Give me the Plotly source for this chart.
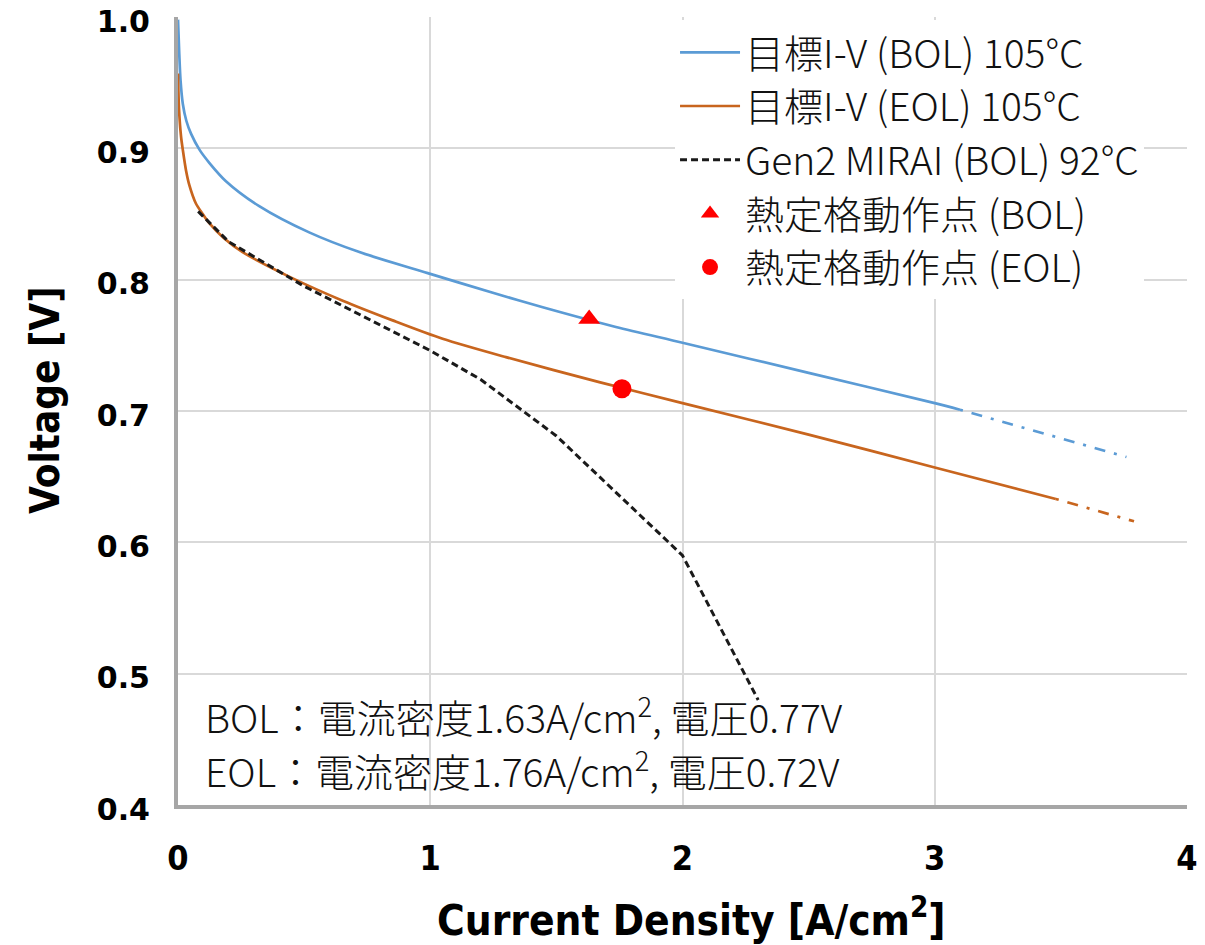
import plotly.graph_objects as go

# BOL target I-V (105°C), solid part
bol_x = [0.0, 0.005, 0.01, 0.019, 0.033, 0.052, 0.085, 0.124, 0.19, 0.322, 0.52, 0.719, 0.99, 1.248, 1.446, 1.736, 2.0, 2.5, 3.0, 3.1]
bol_y = [0.998, 0.972, 0.952, 0.934, 0.921, 0.911, 0.899, 0.889, 0.875, 0.856, 0.836, 0.821, 0.805, 0.790, 0.779, 0.764, 0.752, 0.729, 0.706, 0.701]
# BOL extrapolation (dash-dot)
bol_ext_x = [3.1, 3.76]
bol_ext_y = [0.701, 0.665]

# EOL target I-V (105°C), solid part
eol_x = [0.0, 0.004, 0.012, 0.019, 0.032, 0.045, 0.071, 0.098, 0.124, 0.18, 0.256, 0.455, 0.653, 0.851, 1.049, 1.3, 1.67, 2.0, 2.5, 3.0, 3.48]
eol_y = [0.957, 0.930, 0.909, 0.899, 0.883, 0.872, 0.858, 0.850, 0.843, 0.832, 0.821, 0.801, 0.784, 0.769, 0.755, 0.741, 0.722, 0.706, 0.682, 0.657, 0.633]
eol_ext_x = [3.48, 3.79]
eol_ext_y = [0.633, 0.616]

# Gen2 MIRAI (BOL) 92°C
mirai_x = [0.08, 0.2, 0.5, 1.0, 1.2, 1.5, 2.0, 2.3]
mirai_y = [0.852, 0.829, 0.795, 0.746, 0.724, 0.681, 0.590, 0.480]

# operating points
pt_bol = (1.63, 0.77)
pt_eol = (1.76, 0.717)

blue = "#5B9BD5"
orange = "#C8651E"
cjk = "Noto Sans CJK JP"
narrow = "DejaVu Sans Condensed, Liberation Sans Narrow, Arial Narrow, sans-serif"

fig = go.Figure()
fig.add_trace(go.Scatter(x=bol_x, y=bol_y, mode="lines", line=dict(color=blue, width=2.7, shape="spline", smoothing=0.8),
                         name="目標I-V (BOL) 105°C"))
fig.add_trace(go.Scatter(x=eol_x, y=eol_y, mode="lines", line=dict(color=orange, width=2.7, shape="spline", smoothing=0.8),
                         name="目標I-V (EOL) 105°C"))
fig.add_trace(go.Scatter(x=mirai_x, y=mirai_y, mode="lines", line=dict(color="#1a1a1a", width=3, dash="7px,4px"),
                         name="Gen2 MIRAI (BOL) 92°C"))
fig.add_trace(go.Scatter(x=[pt_bol[0]], y=[pt_bol[1]], mode="markers",
                         marker=dict(symbol="triangle-up", color="#FF0000", size=19),
                         name="熱定格動作点 (BOL)"))
fig.add_trace(go.Scatter(x=[pt_eol[0]], y=[pt_eol[1]], mode="markers",
                         marker=dict(symbol="circle", color="#FF0000", size=19),
                         name="熱定格動作点 (EOL)"))
fig.add_trace(go.Scatter(x=bol_ext_x, y=bol_ext_y, mode="lines", line=dict(color=blue, width=2.7, dash="3px,9px,11px,9px"),
                         showlegend=False))
fig.add_trace(go.Scatter(x=eol_ext_x, y=eol_ext_y, mode="lines", line=dict(color=orange, width=2.7, dash="3px,9px,11px,9px"),
                         showlegend=False))

fig.add_annotation(x=0.1, y=0.469, xref="x", yref="y", xanchor="left", yanchor="middle", showarrow=False,
                   text="BOL：電流密度1.63A/cm<sup>2</sup>, 電圧0.77V", font=dict(family=cjk, size=39, color="#111", weight=300))
fig.add_annotation(x=0.1, y=0.428, xref="x", yref="y", xanchor="left", yanchor="middle", showarrow=False,
                   text="EOL：電流密度1.76A/cm<sup>2</sup>, 電圧0.72V", font=dict(family=cjk, size=39, color="#111", weight=300))

# axis titles
fig.add_annotation(x=0.509, y=-0.1434, xref="paper", yref="paper", xanchor="center", yanchor="middle", showarrow=False,
                   text="Current Density [A/cm<sup>2</sup>]", font=dict(family=narrow, size=42, color="black", weight="bold"))
fig.add_annotation(x=-0.1318, y=0.514, xref="paper", yref="paper", xanchor="center", yanchor="middle", showarrow=False,
                   textangle=-90, text="Voltage [V]", font=dict(family=narrow, size=40, color="black", weight="bold"))

fig.update_layout(
    width=1205, height=945,
    margin=dict(l=178, r=18, t=17, b=140),
    paper_bgcolor="white", plot_bgcolor="white",
    showlegend=True,
    legend=dict(x=0.4926, y=0.9956, xanchor="left", yanchor="top", bgcolor="white", borderwidth=0,
                font=dict(family=cjk, size=39, color="#111", weight=300), tracegroupgap=0, itemwidth=60),
    xaxis=dict(range=[0, 4], tickvals=[0, 1, 2, 3, 4], showgrid=True, gridcolor="#D9D9D9", gridwidth=2,
               showline=True, linecolor="#A6A6A6", linewidth=4, zeroline=False, ticks="", automargin=False,
               ticklabelstandoff=20, ticklabeloverflow="allow",
               tickfont=dict(family=narrow, size=34, color="black", weight="bold")),
    yaxis=dict(range=[0.4, 1.0], tickvals=[0.4, 0.5, 0.6, 0.7, 0.8, 0.9, 1.0], ticktext=["0.4", "0.5", "0.6", "0.7", "0.8", "0.9", "1.0"],
               showgrid=True, gridcolor="#D9D9D9", gridwidth=2,
               showline=True, linecolor="#A6A6A6", linewidth=4, zeroline=False, ticks="", automargin=False,
               ticklabelstandoff=18, ticklabeloverflow="allow", ticklabelshift=4,
               tickfont=dict(family="DejaVu Sans", size=30, color="black", weight="bold")),
)

fig.write_html("out.html", config={"displayModeBar": False}, post_script="document.body.style.margin='0';")
